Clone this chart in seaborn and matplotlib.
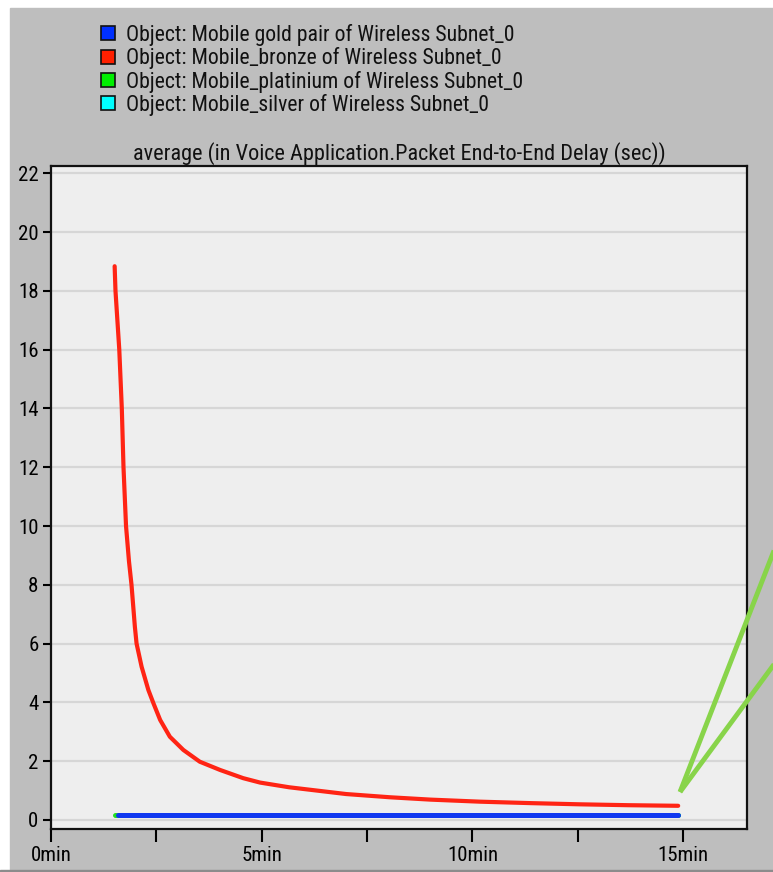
import numpy as np
import pandas as pd
import seaborn as sns
import matplotlib
matplotlib.use("Agg")
import matplotlib.pyplot as plt
from matplotlib.lines import Line2D
from matplotlib.patches import Rectangle
from matplotlib import font_manager

# series names (legend order)
series = ["Object: Mobile gold pair of Wireless Subnet_0",
          "Object: Mobile_bronze of Wireless Subnet_0",
          "Object: Mobile_platinium of Wireless Subnet_0",
          "Object: Mobile_silver of Wireless Subnet_0"]
colors = ["#1038f0", "#ff2414", "#22e022", "#00ffff"]
legend_colors = ["#0030ff", "#ff2000", "#00ee00", "#00ffff"]

# time in minutes, delay in seconds
bronze_t = [1.51, 1.53, 1.62, 1.68, 1.72, 1.78, 1.85, 1.91, 1.99, 2.03, 2.15, 2.31, 2.43,
            2.59, 2.82, 3.14, 3.53, 4.01, 4.56, 4.96, 5.65, 7.0, 8.04, 9.0, 10.18, 11.4,
            12.55, 13.7, 14.88]
bronze_v = [18.84, 18.0, 16.0, 14.0, 12.0, 10.0, 8.8, 8.0, 6.57, 6.0, 5.21, 4.42, 3.97,
            3.40, 2.83, 2.38, 1.98, 1.70, 1.42, 1.27, 1.11, 0.88, 0.77, 0.69, 0.62, 0.57,
            0.53, 0.50, 0.48]
gold_t = [1.60, 3.0, 5.0, 7.5, 10.0, 12.5, 14.88]
gold_v = [0.18, 0.18, 0.18, 0.18, 0.18, 0.18, 0.18]
plat_t = [1.52, 3.0, 5.0, 7.5, 10.0, 12.5, 14.88]
plat_v = [0.17, 0.17, 0.17, 0.17, 0.17, 0.17, 0.17]
silver_t = [1.58, 3.0, 5.0, 7.5, 10.0, 12.5, 14.88]
silver_v = [0.18, 0.18, 0.18, 0.18, 0.18, 0.18, 0.18]

xticks = [0, 5, 10, 15]
xtick_labels = ["0min", "5min", "10min", "15min"]
yticks = list(range(0, 23, 2))

# pick a narrow font if one is there
fonts = font_manager.fontManager.ttflist
names = {f.name for f in fonts}
stretch = "normal"
if "Roboto Condensed" in names:
    fam, k = "Roboto Condensed", 1.0
elif "Liberation Sans Narrow" in names:
    fam, k = "Liberation Sans Narrow", 1.0
else:
    fam, k = "DejaVu Sans", 0.8
fs_title, fs_leg, fs_tick = 16 * k, 15.7 * k, 15 * k

sns.set_style("white")
plt.rcParams["font.family"] = [fam, "DejaVu Sans"]

fig = plt.figure(figsize=(7.73, 8.72), dpi=100, facecolor="white")
fig.add_artist(Rectangle((10 / 773, 2 / 872), 1, (872 - 10) / 872,
                         transform=fig.transFigure, color="#bebebe", zorder=-10))
fig.add_artist(Rectangle((0, 0), 1, 2 / 872, transform=fig.transFigure,
                         color="#8c8c8c", zorder=-10))

ax = fig.add_axes([51 / 773, 1 - 829.3 / 872, (747.3 - 51) / 773, (829.3 - 165.7) / 872])
ax.set_facecolor("#eeeeee")

frames = {
    series[3]: (silver_t, silver_v),
    series[2]: (plat_t, plat_v),
    series[0]: (gold_t, gold_v),
    series[1]: (bronze_t, bronze_v),
}
widths = {series[0]: 3.6, series[1]: 3.0, series[2]: 3.6, series[3]: 3.6}
for name, (t, v) in frames.items():
    df = pd.DataFrame({"t": t, "delay": v})
    sns.lineplot(data=df, x="t", y="delay", ax=ax, color=colors[series.index(name)],
                 linewidth=widths[name], sort=False, zorder=3)

ax.set_xlim(0, 16.52)
ax.set_ylim(-0.32, 22.26)
ax.set_xticks(xticks)
ax.set_xticklabels(xtick_labels)
ax.set_xticks([2.5, 7.5, 12.5], minor=True)
ax.set_yticks(yticks)
ax.set_yticklabels([str(y) for y in yticks])
ax.tick_params(axis="x", which="both", direction="out", length=9, width=1.5,
               colors="black", labelsize=fs_tick, pad=3, bottom=True)
ax.tick_params(axis="y", direction="out", length=6, width=1.5, colors="black",
               labelsize=fs_tick, pad=3, left=True)
ax.grid(axis="y", color="#d6d6d6", linewidth=1.6, zorder=0)
ax.grid(axis="x", visible=False)
for s in ax.spines.values():
    s.set_visible(True)
    s.set_color("#111111")
    s.set_linewidth(1.6)
ax.set_xlabel("")
ax.set_ylabel("")
ax.set_title("average (in Voice Application.Packet End-to-End Delay (sec))",
             fontsize=fs_title, pad=4, color="#111111")

handles = [Line2D([], [], marker="s", linestyle="none", markersize=10,
                  markerfacecolor=c, markeredgecolor="#111111", markeredgewidth=1.2)
           for c in legend_colors]
leg = fig.legend(handles, series, loc="upper left", bbox_to_anchor=(100 / 773, 1 - 24 / 872),
                 frameon=False, fontsize=fs_leg, handlelength=0.75, handletextpad=0.45,
                 labelspacing=0.06, borderpad=0, borderaxespad=0)
for txt in leg.get_texts():
    txt.set_color("#111111")

# green pointer lines at the right
for yend in (548, 663):
    fig.add_artist(Line2D([680 / 773, 775 / 773], [1 - 792 / 872, 1 - yend / 872],
                          transform=fig.transFigure, color="#88d44a", linewidth=3.5,
                          solid_capstyle="butt", zorder=20))

fig.savefig("out.png", dpi=100, facecolor=fig.get_facecolor())
